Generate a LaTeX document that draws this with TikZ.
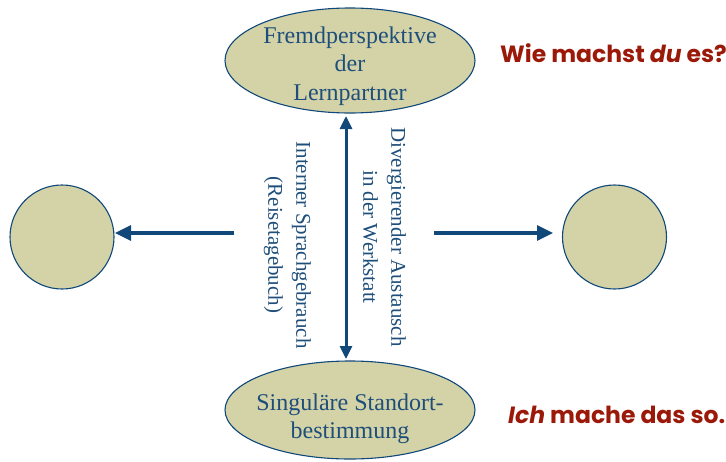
\documentclass[tikz,border=0pt]{standalone}
\usepackage{fontspec}
\setmainfont{Liberation Serif}
\newfontfamily\handfont{Poppins}
\usetikzlibrary{shapes.geometric,arrows.meta}
\definecolor{ellfill}{RGB}{212,211,168}
\definecolor{navy}{RGB}{16,72,122}
\definecolor{txtblue}{RGB}{30,78,122}
\definecolor{darkred}{RGB}{155,25,8}
\tikzset{
  ellbox/.style={ellipse, draw=navy, line width=1.1pt, fill=ellfill, minimum width=250pt, minimum height=105pt, inner sep=0pt},
  circbox/.style={circle, draw=navy, line width=1.1pt, fill=ellfill, minimum size=104pt, inner sep=0pt},
  elltext/.style={text=txtblue, align=center, font=\fontsize{24}{28.5}\selectfont, inner sep=0pt},
  rottext/.style={text=txtblue, align=center, font=\fontsize{21}{28}\selectfont, rotate=-90, inner sep=0pt},
  redtext/.style={text=darkred, font=\handfont\bfseries\fontsize{23.5}{28}\selectfont, inner sep=0pt},
  arr/.style={draw=navy, line width=3.2pt, -{Triangle[length=16pt,width=15pt]}},
  darr/.style={draw=navy, line width=3pt, {Triangle[length=13pt,width=12pt]}-{Triangle[length=13pt,width=12pt]}}
}
\begin{document}
\begin{tikzpicture}[x=1pt,y=-1pt]
\useasboundingbox (0,0) rectangle (726,461);
\node[ellbox] (top) at (350,60.5) {};
\node[elltext] (toptext) at (350,66) {Fremdperspektive\\der\\Lernpartner};
\node[ellbox, minimum height=98pt] (bot) at (350,410) {};
\node[elltext] (bottext) at (350,419) {Singuläre Standort-\\bestimmung};
\node[circbox] (left) at (62,237) {};
\node[circbox] (right) at (614.5,237) {};
\coordinate (la) at (234,233);
\coordinate (ra) at (434,233);
\coordinate (lt) at (115,233);
\coordinate (rt) at (553,233);
\draw[arr] (la) -- (lt);
\draw[arr] (ra) -- (rt);
\coordinate (vt) at (346,116);
\coordinate (vb) at (346,359);
\draw[darr] (vb) -- (vt);
\node[rottext] (ltext) at (287.5,245) {Interner Sprachgebrauch\\(Reisetagebuch)};
\node[rottext] (rtext) at (384.5,237) {Divergierender Austausch\\in der Werkstatt};
\node[redtext, anchor=west] (q) at (500,53) {Wie machst \textit{du} es?};
\node[redtext, anchor=west] (a) at (508,415) {\textit{Ich} mache das so.};
\end{tikzpicture}
\end{document}
